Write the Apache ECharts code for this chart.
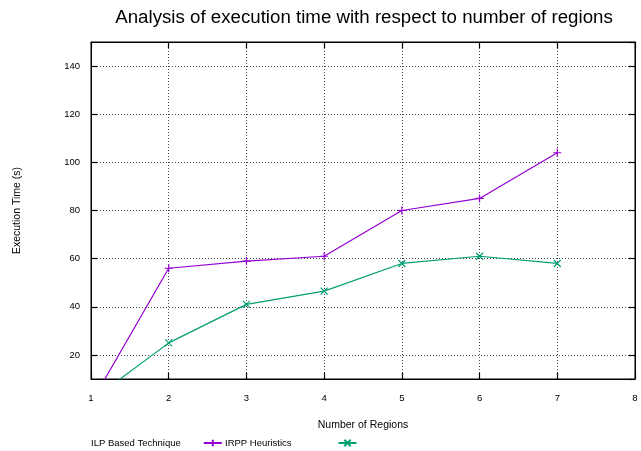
<!DOCTYPE html>
<html><head><meta charset="utf-8">
<script src="https://cdn.jsdelivr.net/npm/echarts@6/dist/echarts.min.js"></script>
<style>html,body{margin:0;padding:0;background:#fff}#c{width:641px;height:451px}</style>
</head><body><div id="c"></div>
<script>
var regions = [1, 2, 3, 4, 5, 6, 7];
var ilpValues = [0, 56, 59, 61, 80, 85, 104];
var irppValues = [1, 25, 41, 46.5, 58, 61, 58];
var xTicks = [1, 8];
var yRange = [10, 150];

var FONT = 'Liberation Sans, Arial, sans-serif';
var chart = echarts.init(document.getElementById('c'), null, {renderer: 'canvas'});
function pts(vals) { return regions.map(function (x, i) { return [x, vals[i]]; }); }
var gridLine = {show: true, lineStyle: {color: '#444', type: [1, 2], width: 1}};
var tickStyle = {show: true, inside: true, length: 6, lineStyle: {color: '#000', width: 1.2}};
function legendFor(name, left, spacer) {
  return {
    data: [name], left: left, top: 433, align: 'right', itemWidth: 18, itemHeight: 8,
    formatter: function (n) { return '{t|' + n + '}{g| }'; },
    textStyle: {fontFamily: FONT, fontSize: 9.5, color: '#000',
      rich: {t: {fontFamily: FONT, fontSize: 9.5, color: '#000'}, g: {width: spacer, fontSize: 9.5}}}
  };
}
chart.setOption({
  animation: false,
  backgroundColor: '#fff',
  title: {
    text: 'Analysis of execution time with respect to number of regions',
    left: 359, top: 3, textAlign: 'center',
    textStyle: {fontFamily: FONT, fontSize: 18.7, fontWeight: 'normal', color: '#000'}
  },
  grid: {left: 91, right: 6, top: 42, bottom: 72, show: true, borderColor: '#000', borderWidth: 1},
  legend: [legendFor('ILP Based Technique', 86, 18), legendFor('IRPP Heuristics', 220, 42)],
  xAxis: [{
    type: 'value', min: xTicks[0], max: xTicks[1], interval: 1,
    name: 'Number of Regions', nameLocation: 'middle', nameGap: 41,
    nameTextStyle: {fontFamily: FONT, fontSize: 10.5, color: '#000'},
    axisLine: {show: true, lineStyle: {color: '#000', width: 1}},
    axisTick: tickStyle,
    axisLabel: {fontFamily: FONT, fontSize: 9.5, color: '#000', margin: 14},
    splitLine: gridLine
  }, {
    type: 'value', position: 'top', min: xTicks[0], max: xTicks[1], interval: 1,
    axisLine: {show: true, lineStyle: {color: '#000', width: 1}},
    axisTick: tickStyle, axisLabel: {show: false}, splitLine: {show: false}
  }],
  yAxis: [{
    type: 'value', min: yRange[0], max: yRange[1], splitNumber: 7,
    name: 'Execution Time (s)', nameLocation: 'middle', nameGap: 68,
    nameTextStyle: {fontFamily: FONT, fontSize: 10.5, color: '#000'},
    axisLine: {show: true, lineStyle: {color: '#000', width: 1}},
    axisTick: tickStyle,
    axisLabel: {fontFamily: FONT, fontSize: 9.5, color: '#000', margin: 11, showMinLabel: false, showMaxLabel: false},
    splitLine: gridLine
  }, {
    type: 'value', position: 'right', min: yRange[0], max: yRange[1], splitNumber: 7,
    axisLine: {show: true, lineStyle: {color: '#000', width: 1}},
    axisTick: tickStyle, axisLabel: {show: false}, splitLine: {show: false}
  }],
  series: [{
    name: 'ILP Based Technique', type: 'line', data: pts(ilpValues),
    symbol: 'path://M0,5L10,5M5,0L5,10', symbolSize: 8,
    lineStyle: {color: '#9400d3', width: 1.2},
    itemStyle: {color: '#9400d3', borderColor: '#9400d3', borderWidth: 1.2},
    clip: true
  }, {
    name: 'IRPP Heuristics', type: 'line', data: pts(irppValues),
    symbol: 'path://M0,0L10,10M10,0L0,10', symbolSize: 7,
    lineStyle: {color: '#009e73', width: 1.2},
    itemStyle: {color: '#009e73', borderColor: '#009e73', borderWidth: 1.2},
    clip: true
  }]
});
</script></body></html>
